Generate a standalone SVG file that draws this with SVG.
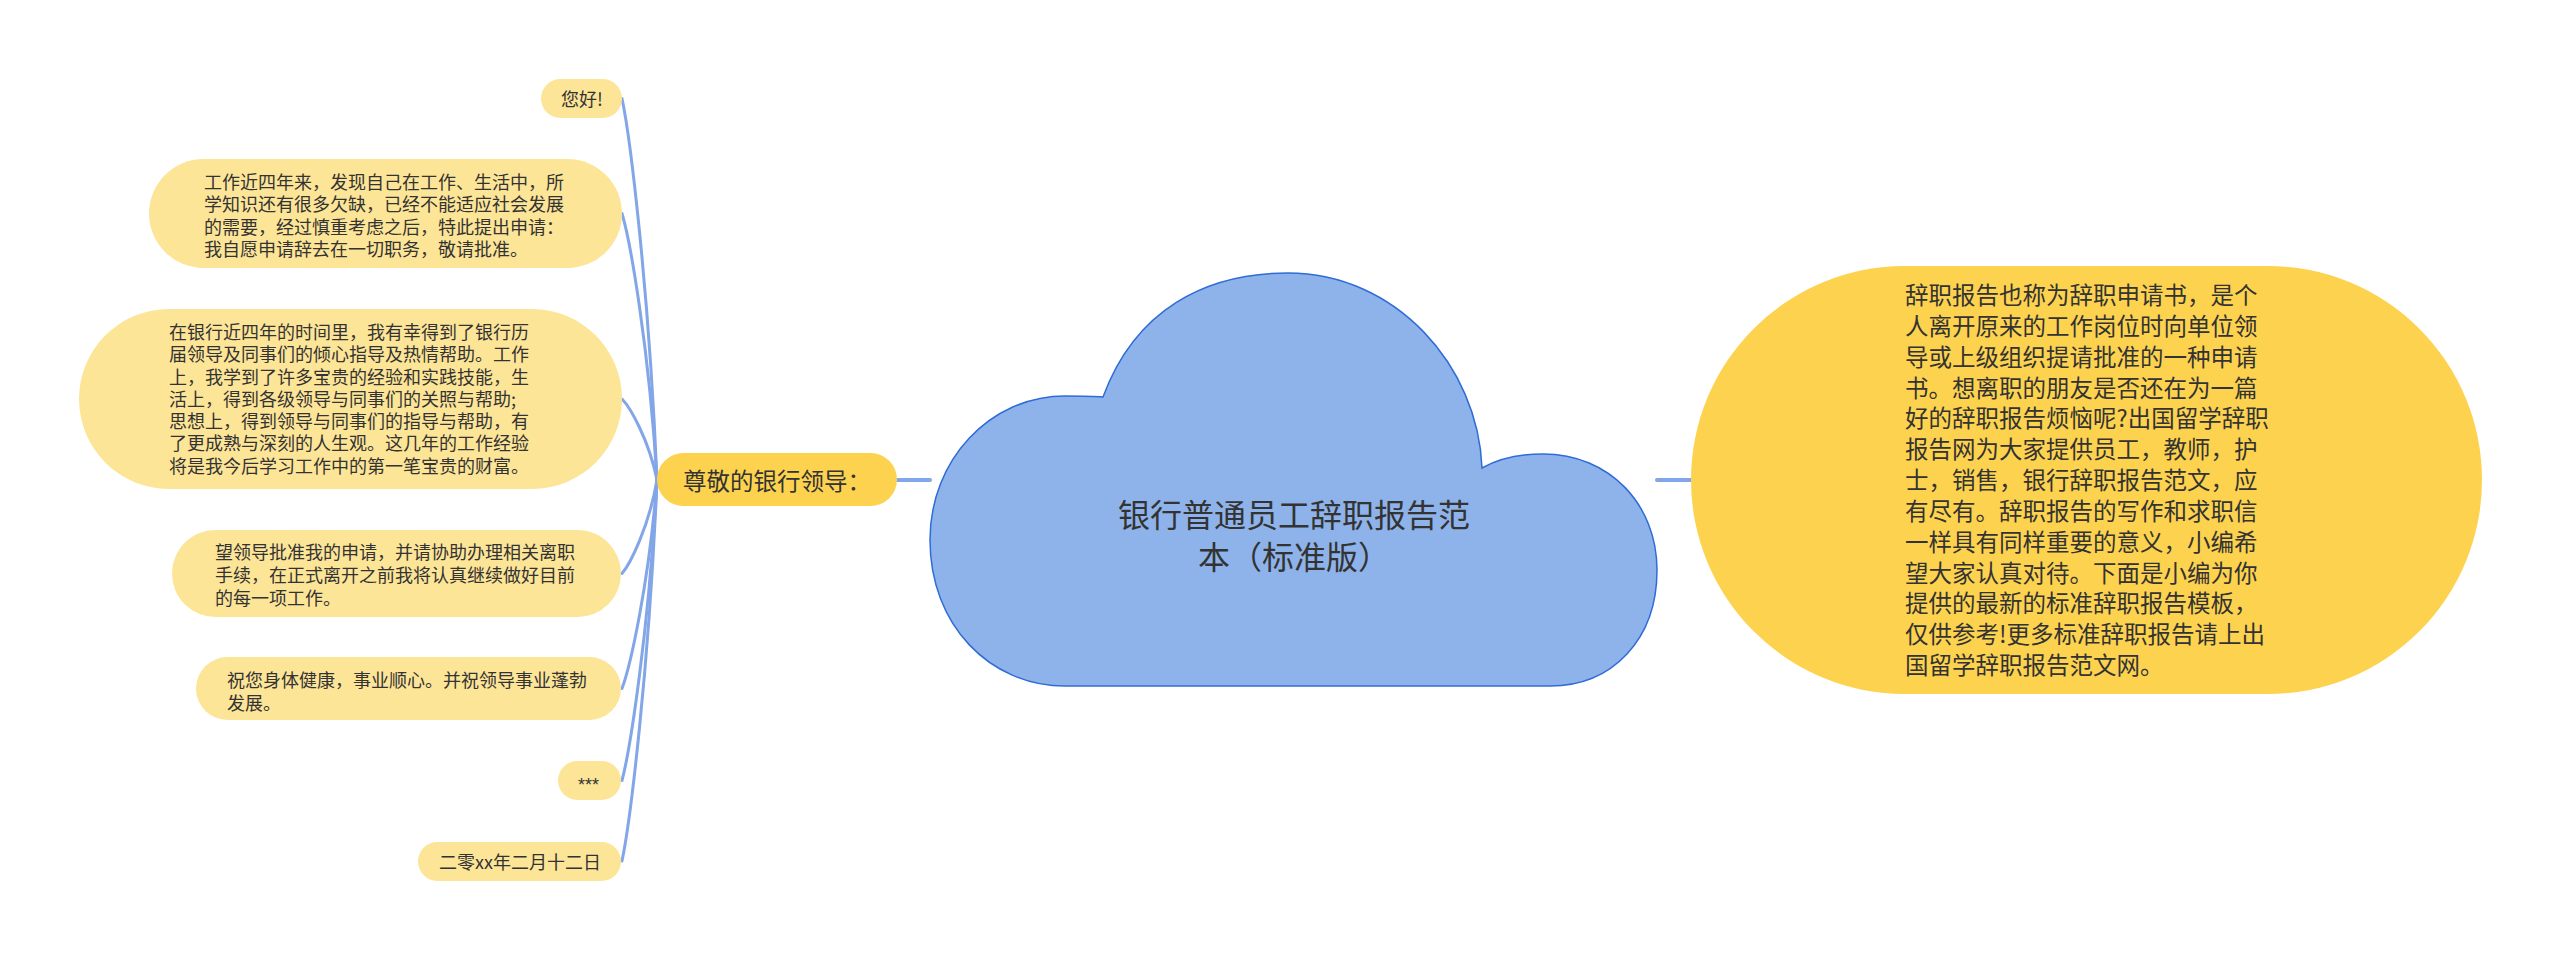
<svg xmlns="http://www.w3.org/2000/svg" width="2560" height="960" viewBox="0 0 2560 960">
<style>
.t{font-family:"Noto Sans CJK SC","Liberation Sans",sans-serif;fill:#333333}
.s{font-size:18px}
.m{font-size:23.5px}
.c{font-size:32px}
.leaf{fill:#FDE597}
.main{fill:#FDD24E}
.link{fill:none;stroke:#82A6E7;stroke-width:3;stroke-linecap:round}
</style>
<rect width="2560" height="960" fill="#FFFFFF"/>
<g id="connectors">
<line class="link" x1="897" y1="480" x2="930" y2="480" style="stroke-width:4"/>
<line class="link" x1="1657" y1="480" x2="1691" y2="480" style="stroke-width:4"/>
<path class="link" d="M 657 480 C 649 289, 630 136, 622 98.5"/>
<path class="link" d="M 657 480 C 649 347, 630 240, 622 213.5"/>
<path class="link" d="M 657 480 C 649 440, 630 407, 622 399"/>
<path class="link" d="M 657 480 C 649 527, 630 564, 622 573.5"/>
<path class="link" d="M 657 480 C 649 584, 630 667, 622 688.5"/>
<path class="link" d="M 657 480 C 649 630, 630 750, 622 780.5"/>
<path class="link" d="M 657 480 C 649 670, 630 823, 622 861"/>
</g>
<g id="root">
<path d="M 1103 397 C 1135 310, 1205 273, 1288 273 C 1395 273, 1478 365, 1482 468 C 1500 458, 1520 454, 1543 454 C 1610 454, 1657 505, 1657 570 C 1657 640, 1612 686, 1550 686 L 1065 686 C 990 686, 930 625, 930 540 C 930 460, 990 396, 1065 396 C 1080 396, 1093 396, 1103 397 Z" fill="#8EB3EA" stroke="#2F6CD6" stroke-width="1.5"/>
<text class="t c" text-anchor="middle"><tspan x="1294" y="527">银行普通员工辞职报告范</tspan><tspan x="1294" y="569">本（标准版）</tspan></text>
</g>
<g id="intro">
<rect class="main" x="1691" y="266" width="791" height="428" rx="214" ry="214"/>
<text class="t m"><tspan x="1905" y="304">辞职报告也称为辞职申请书，是个</tspan><tspan x="1905" y="334.8">人离开原来的工作岗位时向单位领</tspan><tspan x="1905" y="365.6">导或上级组织提请批准的一种申请</tspan><tspan x="1905" y="396.5">书。想离职的朋友是否还在为一篇</tspan><tspan x="1905" y="427.3">好的辞职报告烦恼呢?出国留学辞职</tspan><tspan x="1905" y="458.1">报告网为大家提供员工，教师，护</tspan><tspan x="1905" y="489">士，销售，银行辞职报告范文，应</tspan><tspan x="1905" y="519.8">有尽有。辞职报告的写作和求职信</tspan><tspan x="1905" y="550.6">一样具有同样重要的意义，小编希</tspan><tspan x="1905" y="581.5">望大家认真对待。下面是小编为你</tspan><tspan x="1905" y="612.3">提供的最新的标准辞职报告模板，</tspan><tspan x="1905" y="643.1">仅供参考!更多标准辞职报告请上出</tspan><tspan x="1905" y="674">国留学辞职报告范文网。</tspan></text>
</g>
<g id="hub">
<rect class="main" x="657" y="453" width="240" height="53" rx="26.5"/>
<text class="t m" x="683" y="490">尊敬的银行领导：</text>
</g>
<g id="n1">
<rect class="leaf" x="541" y="79" width="81" height="39" rx="19.5"/>
<text class="t s" x="561" y="106">您好!</text>
</g>
<g id="n2">
<rect class="leaf" x="149" y="159" width="473" height="109" rx="54.5"/>
<text class="t s"><tspan x="204" y="188.5">工作近四年来，发现自己在工作、生活中，所</tspan><tspan x="204" y="211">学知识还有很多欠缺，已经不能适应社会发展</tspan><tspan x="204" y="233.5">的需要，经过慎重考虑之后，特此提出申请：</tspan><tspan x="204" y="256">我自愿申请辞去在一切职务，敬请批准。</tspan></text>
</g>
<g id="n3">
<rect class="leaf" x="79" y="309" width="543" height="180" rx="90"/>
<text class="t s"><tspan x="169" y="339">在银行近四年的时间里，我有幸得到了银行历</tspan><tspan x="169" y="361.3">届领导及同事们的倾心指导及热情帮助。工作</tspan><tspan x="169" y="383.5">上，我学到了许多宝贵的经验和实践技能，生</tspan><tspan x="169" y="405.8">活上，得到各级领导与同事们的关照与帮助;</tspan><tspan x="169" y="428">思想上，得到领导与同事们的指导与帮助，有</tspan><tspan x="169" y="450.3">了更成熟与深刻的人生观。这几年的工作经验</tspan><tspan x="169" y="472.5">将是我今后学习工作中的第一笔宝贵的财富。</tspan></text>
</g>
<g id="n4">
<rect class="leaf" x="172" y="530" width="449" height="87" rx="43.5"/>
<text class="t s"><tspan x="215" y="558.5">望领导批准我的申请，并请协助办理相关离职</tspan><tspan x="215" y="581.5">手续，在正式离开之前我将认真继续做好目前</tspan><tspan x="215" y="604.5">的每一项工作。</tspan></text>
</g>
<g id="n5">
<rect class="leaf" x="196" y="657" width="425" height="63" rx="31.5"/>
<text class="t s"><tspan x="227" y="687">祝您身体健康，事业顺心。并祝领导事业蓬勃</tspan><tspan x="227" y="709.5">发展。</tspan></text>
</g>
<g id="n6">
<rect class="leaf" x="558" y="761" width="63" height="39" rx="19.5"/>
<text class="s" x="578" y="791" style="font-family:'Liberation Sans',sans-serif;fill:#333333">***</text>
</g>
<g id="n7">
<rect class="leaf" x="418" y="842" width="203" height="39" rx="19.5"/>
<text class="t s" x="439" y="868.5">二零xx年二月十二日</text>
</g>
</svg>
